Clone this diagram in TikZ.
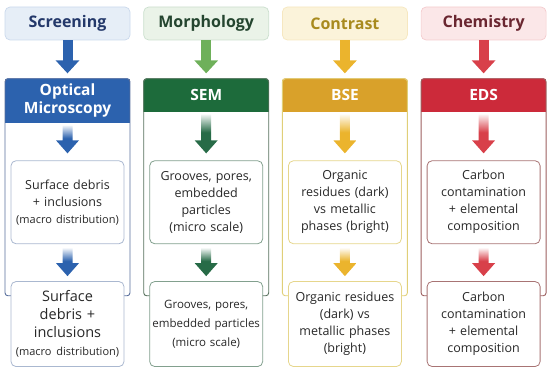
\documentclass[tikz,border=0pt]{standalone}
\usepackage{fontspec}
\setmainfont{Open Sans}
\usepackage{tikz}
\usetikzlibrary{positioning, arrows.meta, backgrounds, calc}
\definecolor{sblue}{RGB}{44,98,174}
\definecolor{sbluetxt}{RGB}{35,56,106}
\definecolor{sbluebg}{RGB}{230,238,247}
\definecolor{sblueln}{RGB}{88,110,156}
\definecolor{sbluebx}{RGB}{170,184,208}
\definecolor{sgreen}{RGB}{29,107,59}
\definecolor{sgreentxt}{RGB}{36,69,47}
\definecolor{sgreenbg}{RGB}{234,243,232}
\definecolor{sgreenln}{RGB}{86,112,92}
\definecolor{sgreenbx}{RGB}{130,160,142}
\definecolor{sgreenlt}{RGB}{110,176,90}
\definecolor{sgreenar}{RGB}{39,107,71}
\definecolor{syellow}{RGB}{217,161,42}
\definecolor{syellowtxt}{RGB}{168,138,30}
\definecolor{syellowbg}{RGB}{251,243,218}
\definecolor{syellowln}{RGB}{224,207,120}
\definecolor{syellowbx}{RGB}{230,214,140}
\definecolor{syellowar}{RGB}{235,180,45}
\definecolor{sred}{RGB}{204,42,58}
\definecolor{sredtxt}{RGB}{106,38,48}
\definecolor{sredbg}{RGB}{251,231,232}
\definecolor{sredln}{RGB}{156,95,95}
\definecolor{sredbx}{RGB}{168,116,116}
\definecolor{sredar}{RGB}{216,64,74}
\definecolor{stext}{RGB}{40,40,40}

\colorlet{fadecol}{sblue}
\pgfdeclareverticalshading[fadecol]{arrowfade}{100bp}{color(0bp)=(fadecol); color(25bp)=(fadecol); color(52bp)=(fadecol); color(75bp)=(fadecol!6); color(100bp)=(fadecol!6)}

% header band of a panel, clipped to its rounded outline
\newcommand{\headfill}[3]{%
  \begin{pgfonlayer}{background}
    \begin{scope}
      \clip[rounded corners=3pt] (#1.south west) rectangle (#1.north east);
      \fill[#3] (#1.north west) rectangle (#2.south -| #1.east);
    \end{scope}
  \end{pgfonlayer}}

% fat arrow fading in from the top: from, to, colour, gap at start, gap at end
\newcommand{\flowarrow}[5]{%
  \colorlet{fadecol}{#3}%
  \shade[shading=arrowfade]
    let \p1=(#1), \p2=(#2) in
    (\x1-5pt,\y1-#4) -- (\x1+5pt,\y1-#4) -- (\x1+5pt,\y2+#5+13pt)
    -- (\x1+11.5pt,\y2+#5+13pt) -- (\x1,\y2+#5) -- (\x1-11.5pt,\y2+#5+13pt)
    -- (\x1-5pt,\y2+#5+13pt) -- cycle;}

\begin{document}
\begin{tikzpicture}[x=1pt, y=1pt, node distance=13pt,
    topbox/.style={rounded corners=5pt, line width=0.7pt, minimum width=125pt, minimum height=33pt, font=\fontsize{16}{19}\selectfont\bfseries},
    panel/.style={draw=#1, line width=0.9pt, rounded corners=3pt, minimum width=125pt, minimum height=217pt},
    head/.style={text=white, font=\fontsize{15.5}{18}\selectfont\bfseries, minimum width=125pt, align=center, inner sep=0pt, outer sep=0pt},
    itembox/.style={draw=#1, fill=white, line width=0.8pt, rounded corners=5pt, minimum width=113pt, text width=112pt, inner sep=0.5pt, align=center, text=stext, font=\fontsize{12.5}{17}\selectfont},
    bigarrow/.style={line width=10pt, -{Triangle[width=23pt,length=13pt]}, shorten >=5pt}]
  \useasboundingbox (0,0) rectangle (550,373);

  % stage labels
  \node[topbox, fill=sbluebg, draw=sbluebg!85!sblue, text=sbluetxt] (scr) at (67.5,349.5) {Screening};
  \node[topbox, fill=sgreenbg, draw=sgreenbg!85!sgreen, text=sgreentxt, right=of scr] (mor) {Morphology};
  \node[topbox, fill=syellowbg, draw=syellowbg!85!syellow, text=syellowtxt, right=of mor] (con) {Contrast};
  \node[topbox, fill=sredbg, draw=sredbg!85!sred, text=sredtxt, right=of con] (che) {Chemistry};

  % technique panels
  \node[panel=sblueln, below=38pt of scr] (opt) {};
  \node[panel=sgreenln, below=38pt of mor] (sem) {};
  \node[panel=syellowln, below=38pt of con] (bse) {};
  \node[panel=sredln, below=38pt of che] (eds) {};

  \node[head, minimum height=45pt, below=0pt of opt.north] (opth) {Optical\\Microscopy};
  \node[head, minimum height=34pt, below=0pt of sem.north] (semh) {SEM};
  \node[head, minimum height=34pt, below=0pt of bse.north] (bseh) {BSE};
  \node[head, minimum height=34pt, below=0pt of eds.north] (edsh) {EDS};
  \headfill{opt}{opth}{sblue}
  \headfill{sem}{semh}{sgreen}
  \headfill{bse}{bseh}{syellow}
  \headfill{eds}{edsh}{sred}

  % findings
  \node[itembox=sbluebx, minimum height=83pt, below=82pt of opt.north] (opt1)
    {Surface debris\\+ inclusions\\{\fontsize{11}{15}\selectfont(macro distribution)}};
  \node[itembox=sgreenbx, minimum height=83pt, below=82pt of sem.north] (sem1)
    {Grooves, pores,\\embedded\\particles\\(micro scale)};
  \node[itembox=syellowbx, minimum height=83pt, below=82pt of bse.north] (bse1)
    {Organic\\residues (dark)\\vs metallic\\phases (bright)};
  \node[itembox=sredbx, minimum height=83pt, below=82pt of eds.north] (eds1)
    {Carbon\\contamination\\+ elemental\\composition};

  \node[itembox=sbluebx, minimum height=85pt, below=37pt of opt1, font=\fontsize{14.5}{18}\selectfont] (opt2)
    {Surface\\debris +\\inclusions\\{\fontsize{11}{15}\selectfont(macro distribution)}};
  \node[itembox=sgreenbx, minimum height=85pt, below=37pt of sem1, font=\fontsize{11.5}{19}\selectfont] (sem2)
    {Grooves, pores,\\embedded particles\\(micro scale)};
  \node[itembox=syellowbx, minimum height=85pt, below=37pt of bse1] (bse2)
    {Organic residues\\(dark) vs\\metallic phases\\(bright)};
  \node[itembox=sredbx, minimum height=85pt, below=37pt of eds1] (eds2)
    {Carbon\\contamination\\+ elemental\\composition};

  % arrows
  \draw[bigarrow, sblue] (scr) -- (opt);
  \draw[bigarrow, sgreenlt] (mor) -- (sem);
  \draw[bigarrow, syellowar] (con) -- (bse);
  \draw[bigarrow, sredar] (che) -- (eds);

  \flowarrow{opth.south}{opt1.north}{sblue}{2pt}{7pt}
  \flowarrow{semh.south}{sem1.north}{sgreenar}{2pt}{7pt}
  \flowarrow{bseh.south}{bse1.north}{syellowar}{2pt}{7pt}
  \flowarrow{edsh.south}{eds1.north}{sredar}{2pt}{7pt}

  \flowarrow{opt1.south}{opt2.north}{sblue}{4pt}{5pt}
  \flowarrow{sem1.south}{sem2.north}{sgreenar}{4pt}{5pt}
  \flowarrow{bse1.south}{bse2.north}{syellowar}{4pt}{5pt}
  \flowarrow{eds1.south}{eds2.north}{sredar}{4pt}{5pt}
\end{tikzpicture}
\end{document}
